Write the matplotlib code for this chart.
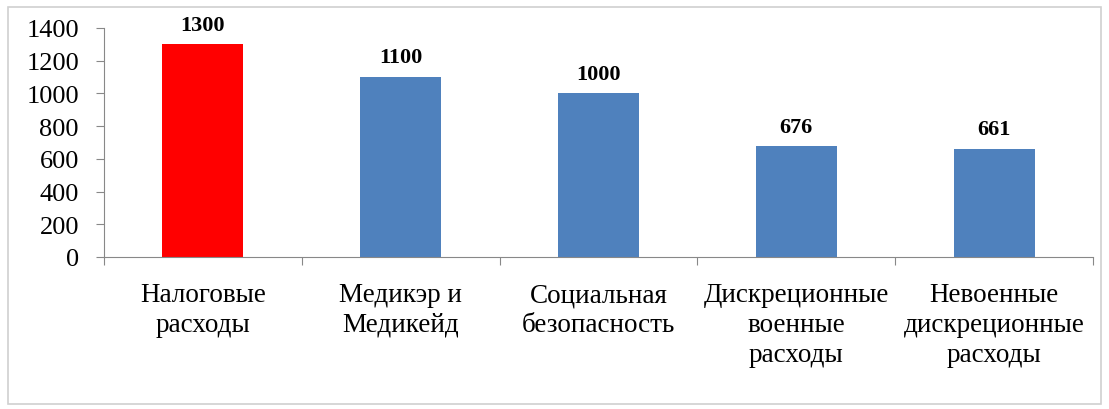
import matplotlib.pyplot as plt
from matplotlib.patches import Rectangle

categories = ['Налоговые\nрасходы', 'Медикэр и\nМедикейд', 'Социальная\nбезопасность',
              'Дискреционные\nвоенные\nрасходы', 'Невоенные\nдискреционные\nрасходы']
values = [1300, 1100, 1000, 676, 661]
colors = ['#FF0000', '#4F81BD', '#4F81BD', '#4F81BD', '#4F81BD']
yticks = [0, 200, 400, 600, 800, 1000, 1200, 1400]

plt.rcParams['font.family'] = ['Liberation Serif', 'DejaVu Serif']

fig = plt.figure(figsize=(11.09, 4.10), dpi=100)
fig.patches.append(Rectangle((8 / 1109, 5 / 410), 1093 / 1109, 397 / 410,
                             transform=fig.transFigure, fill=False,
                             edgecolor='#D0D0D0', linewidth=1.2))
ax = fig.add_axes([104 / 1109, 1 - 258 / 410, (1093 - 104) / 1109, (258 - 29) / 410])

x = list(range(len(values)))
bars = ax.bar(x, values, width=0.41, color=colors, zorder=2)
for xi, v in zip(x, values):
    ax.annotate(str(v), (xi, v), xytext=(0, 7), textcoords='offset points',
                ha='center', va='bottom', fontsize=16, fontweight='bold')

ax.set_xlim(-0.5, len(values) - 0.5)
ax.set_ylim(0, 1400)
ax.set_yticks(yticks)
ax.tick_params(axis='y', labelsize=19, length=6, color='#888888', pad=12)
ax.set_xticks([i - 0.5 for i in range(len(values) + 1)])
ax.set_xticklabels([])
ax.tick_params(axis='x', length=6, color='#888888')
ax.set_xticks(x, minor=True)
ax.set_xticklabels(categories, minor=True, fontsize=19.5, linespacing=1.25)
ax.tick_params(axis='x', which='minor', length=0, pad=18)

for s in ['top', 'right']:
    ax.spines[s].set_visible(False)
for s in ['left', 'bottom']:
    ax.spines[s].set_color('#888888')

fig.savefig('out.png', dpi=100)
